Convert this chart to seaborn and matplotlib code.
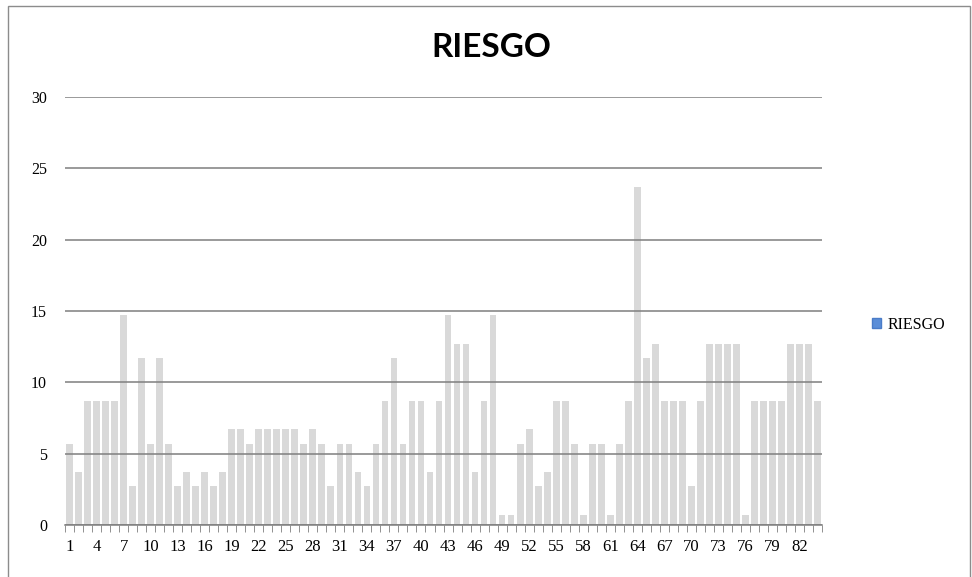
import pandas as pd
import numpy as np
import matplotlib
matplotlib.use("Agg")
import matplotlib.pyplot as plt
import seaborn as sns
from matplotlib.patches import Patch, Rectangle

# -----------------------------------------------
# Data
# -----------------------------------------------
casos = list(range(1, 85))
riesgo = [5.7, 3.7, 8.7, 8.7, 8.7, 8.7, 14.7, 2.7, 11.7, 5.7,
          11.7, 5.7, 2.7, 3.7, 2.7, 3.7, 2.7, 3.7, 6.7, 6.7,
          5.7, 6.7, 6.7, 6.7, 6.7, 6.7, 5.7, 6.7, 5.7, 2.7,
          5.7, 5.7, 3.7, 2.7, 5.7, 8.7, 11.7, 5.7, 8.7, 8.7,
          3.7, 8.7, 14.7, 12.7, 12.7, 3.7, 8.7, 14.7, 0.7, 0.7,
          5.7, 6.7, 2.7, 3.7, 8.7, 8.7, 5.7, 0.7, 5.7, 5.7,
          0.7, 5.7, 8.7, 23.7, 11.7, 12.7, 8.7, 8.7, 8.7, 2.7,
          8.7, 12.7, 12.7, 12.7, 12.7, 0.7, 8.7, 8.7, 8.7, 8.7,
          12.7, 12.7, 12.7, 8.7]
y_ticks = [0, 5, 10, 15, 20, 25, 30]
x_labels = [str(c) for c in casos[::3]]

df = pd.DataFrame({'caso': casos, 'RIESGO': riesgo})

# -----------------------------------------------
# Plot
# -----------------------------------------------
sns.set_style("white")
serif = ['Liberation Serif', 'DejaVu Serif']

fig = plt.figure(figsize=(9.72, 5.77), dpi=100)
ax = fig.add_axes([0.0669, 0.0901, 0.7788, 0.7418])

sns.barplot(x='caso', y='RIESGO', data=df, color='#d9d9d9', width=0.75,
            saturation=1, linewidth=0, ax=ax, zorder=1)

ax.set_ylim(0, 30)
ax.set_xlim(-0.5, len(casos) - 0.5)
ax.set_yticks(y_ticks)
ax.set_yticklabels([str(t) for t in y_ticks], fontfamily=serif, fontsize=11.5, color='black')
ax.set_axisbelow(False)
ax.yaxis.grid(True, color='#7f7f7f', linewidth=1.1, zorder=3)
ax.tick_params(axis='y', length=3, color='#7f7f7f', pad=10)

ax.set_xticks(np.arange(0, len(casos), 3))
ax.set_xticklabels(x_labels, fontfamily=serif, fontsize=12, color='black')
ax.set_xticks(np.arange(-0.5, len(casos), 1), minor=True)
ax.tick_params(axis='x', which='major', length=0, pad=10)
ax.tick_params(axis='x', which='minor', length=5, color='#7f7f7f', direction='out', bottom=True)

for s in ['top', 'right', 'left']:
    ax.spines[s].set_visible(False)
ax.spines['bottom'].set_color('#7f7f7f')
ax.spines['bottom'].set_linewidth(1.1)
ax.spines['bottom'].set_zorder(4)
ax.set_xlabel('')
ax.set_ylabel('')

fig.text(0.505, 0.918, 'RIESGO', ha='center', va='center', fontsize=24,
         fontweight='bold', color='black', family=['Lato', 'DejaVu Sans'])

handle = Patch(facecolor='#5b8ed8', edgecolor='#4a7cc8')
leg = fig.legend([handle], ['RIESGO'], loc='center left', bbox_to_anchor=(0.882, 0.437),
                 frameon=False, handlelength=0.6, handleheight=0.6, handletextpad=0.4,
                 prop={'family': serif, 'size': 11.5})
for t in leg.get_texts():
    t.set_color('black')

# outer chart border
fig.patches.append(Rectangle((8 / 972, -0.02), 962 / 972, 1 - 6 / 577 + 0.02,
                             transform=fig.transFigure, fill=False,
                             edgecolor='#8c8c8c', linewidth=1))

plt.savefig("out.png", dpi=100)
